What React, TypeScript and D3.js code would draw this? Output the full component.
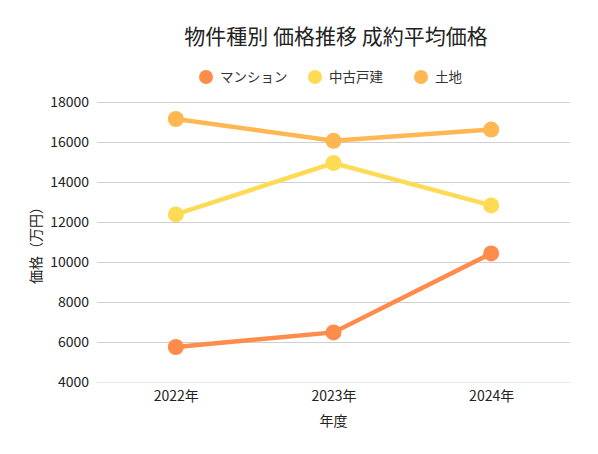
import * as d3 from "d3";
import { useEffect, useRef } from "react";

const years = ["2022年", "2023年", "2024年"];
const seriesNames = ["マンション", "中古戸建", "土地"];
const mansionValues = [5750, 6480, 10430];
const usedHouseValues = [12380, 14950, 12830];
const landValues = [17150, 16060, 16620];
const yTicks = [4000, 6000, 8000, 10000, 12000, 14000, 16000, 18000];

const colors = ["#FF8C4B", "#FFDA55", "#FFB752"];
const font = "'Noto Sans CJK JP', 'Noto Sans', sans-serif";

const App = () => {
  const ref = useRef<SVGSVGElement | null>(null);

  useEffect(() => {
    if (!ref.current) return;
    const svg = d3.select(ref.current);
    svg.selectAll("*").remove();

    const width = 598;
    const height = 454;
    const margin = { top: 102, right: 28, bottom: 72, left: 97 };
    const innerWidth = width - margin.left - margin.right;
    const innerHeight = height - margin.top - margin.bottom;

    const series = [mansionValues, usedHouseValues, landValues];

    const x = d3.scalePoint<string>().domain(years).range([0, innerWidth]).padding(0.5);
    const y = d3.scaleLinear().domain([4000, 18000]).range([innerHeight, 0]);

    svg.attr("width", width).attr("height", height).style("font-family", font);
    svg.append("rect").attr("width", width).attr("height", height).attr("fill", "#fff");

    svg
      .append("text")
      .attr("x", 336)
      .attr("y", 44)
      .attr("text-anchor", "middle")
      .attr("font-size", 21)
      .attr("fill", "#222")
      .text("物件種別 価格推移 成約平均価格");

    // legend
    const legendX = [206, 315, 421];
    const legend = svg.append("g");
    seriesNames.forEach((name, i) => {
      legend
        .append("circle")
        .attr("cx", legendX[i])
        .attr("cy", 77)
        .attr("r", 7)
        .attr("fill", colors[i]);
      legend
        .append("text")
        .attr("x", legendX[i] + 14)
        .attr("y", 77)
        .attr("dy", "0.35em")
        .attr("font-size", 13.5)
        .attr("fill", "#333")
        .text(name);
    });

    const g = svg.append("g").attr("transform", `translate(${margin.left},${margin.top})`);

    const yAxis = g.append("g").call(
      d3.axisLeft(y).tickValues(yTicks).tickSize(-innerWidth).tickFormat(d3.format("d"))
    );
    yAxis.select(".domain").remove();
    yAxis.selectAll(".tick line").attr("stroke", "#d0d0d0");
    yAxis
      .selectAll(".tick text")
      .attr("x", -8)
      .attr("font-size", 14)
      .attr("font-family", font)
      .attr("fill", "#222");

    const xAxis = g
      .append("g")
      .attr("transform", `translate(0,${innerHeight})`)
      .call(d3.axisBottom(x).tickSize(0).tickPadding(9));
    xAxis.select(".domain").attr("stroke", "#e6e6e6");
    xAxis
      .selectAll(".tick text")
      .attr("font-size", 14)
      .attr("font-family", font)
      .attr("fill", "#222");

    const line = d3
      .line<number>()
      .x((_, i) => x(years[i])!)
      .y((d) => y(d));

    series.forEach((vals, i) => {
      g.append("path")
        .datum(vals)
        .attr("fill", "none")
        .attr("stroke", colors[i])
        .attr("stroke-width", 4.5)
        .attr("d", line);
      g.selectAll(null)
        .data(vals)
        .join("circle")
        .attr("cx", (_, j) => x(years[j])!)
        .attr("cy", (d) => y(d))
        .attr("r", 8)
        .attr("fill", colors[i]);
    });

    svg
      .append("text")
      .attr("x", margin.left + innerWidth / 2)
      .attr("y", 426)
      .attr("text-anchor", "middle")
      .attr("font-size", 14)
      .attr("fill", "#222")
      .text("年度");

    svg
      .append("text")
      .attr("transform", `translate(41,${margin.top + innerHeight / 2}) rotate(-90)`)
      .attr("text-anchor", "middle")
      .attr("font-size", 14)
      .attr("fill", "#222")
      .text("価格（万円）");
  }, []);

  return <svg ref={ref} style={{ display: "block", margin: -8 }}></svg>;
};

export default App;
